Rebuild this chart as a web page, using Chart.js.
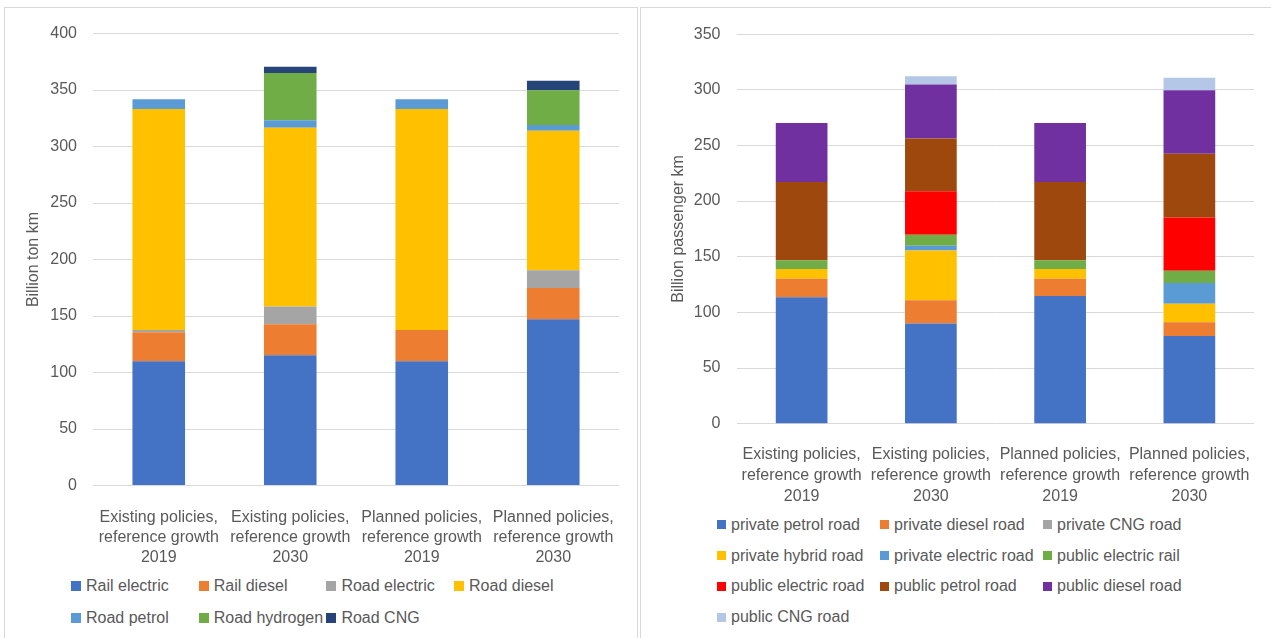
<!DOCTYPE html>
<html>
<head>
<meta charset="utf-8">
<script src="https://cdn.jsdelivr.net/npm/chart.js@4.4.1/dist/chart.umd.min.js"></script>
<style>
  html, body { margin: 0; padding: 0; background: #fff; }
  body { width: 1271px; height: 638px; position: relative; overflow: hidden; font-family: "Liberation Sans", Arial, sans-serif; }
  .panel { position: absolute; top: 7px; height: 700px; border: 1px solid #d9d9d9; box-sizing: border-box; }
  #leftPanel { left: 4px; width: 634px; }
  #rightPanel { left: 640px; width: 640px; }
  canvas { position: absolute; left: 0; top: 0; }
  .legend { position: absolute; display: grid; color: #595959; font-size: 16px; }
  .legend .item { display: flex; align-items: center; white-space: nowrap; }
  .legend .box { display: inline-block; margin-right: 5px; flex: none; }
</style>
</head>
<body>
<div class="panel" id="leftPanel"><canvas id="freightChart" width="632" height="560"></canvas></div>
<div class="panel" id="rightPanel"><canvas id="passengerChart" width="630" height="500"></canvas></div>
<div class="legend" id="freightLegend"></div>
<div class="legend" id="passengerLegend"></div>

<script>
// categories (same for both charts)
const categories = [
  ['Existing policies,', 'reference growth', '2019'],
  ['Existing policies,', 'reference growth', '2030'],
  ['Planned policies,', 'reference growth', '2019'],
  ['Planned policies,', 'reference growth', '2030']
];

// freight, billion ton km
const railElectric = [110, 115.4, 110, 147.2];
const railDiesel = [25.6, 27.4, 27.6, 27.7];
const roadElectric = [2, 15.6, 0, 15.6];
const roadDiesel = [195.6, 158.3, 195.6, 123.4];
const roadPetrol = [8.7, 6.7, 8.7, 5.2];
const roadHydrogen = [0, 41.8, 0, 30.8];
const roadCNG = [0, 5.5, 0, 8.4];
const freightTicks = [0, 50, 100, 150, 200, 250, 300, 350, 400];

// passenger, billion passenger km
const privPetrolRoad = [113.6, 90.0, 114.8, 78.8];
const privDieselRoad = [16.6, 21.0, 15.4, 12.3];
const privCNGRoad = [0, 0, 0, 0];
const privHybridRoad = [8.8, 44.6, 8.8, 16.6];
const privElectricRoad = [0, 4.2, 0, 18.8];
const pubElectricRail = [7.9, 9.9, 7.9, 11.0];
const pubElectricRoad = [0, 39.1, 0, 47.7];
const pubPetrolRoad = [70.3, 47.3, 70.3, 57.2];
const pubDieselRoad = [52.9, 48.7, 52.9, 57.2];
const pubCNGRoad = [0, 7.4, 0, 11.1];
const passengerTicks = [0, 50, 100, 150, 200, 250, 300, 350];

Chart.defaults.font.family = '"Liberation Sans", Arial, sans-serif';
Chart.defaults.font.size = 16;
Chart.defaults.color = '#595959';

const freightSets = [
  { label: 'Rail electric', data: railElectric, backgroundColor: '#4472C4' },
  { label: 'Rail diesel', data: railDiesel, backgroundColor: '#ED7D31' },
  { label: 'Road electric', data: roadElectric, backgroundColor: '#A5A5A5' },
  { label: 'Road diesel', data: roadDiesel, backgroundColor: '#FFC000' },
  { label: 'Road petrol', data: roadPetrol, backgroundColor: '#5B9BD5' },
  { label: 'Road hydrogen', data: roadHydrogen, backgroundColor: '#70AD47' },
  { label: 'Road CNG', data: roadCNG, backgroundColor: '#264478' }
];

const passengerSets = [
  { label: 'private petrol road', data: privPetrolRoad, backgroundColor: '#4472C4' },
  { label: 'private diesel road', data: privDieselRoad, backgroundColor: '#ED7D31' },
  { label: 'private CNG road', data: privCNGRoad, backgroundColor: '#A5A5A5' },
  { label: 'private hybrid road', data: privHybridRoad, backgroundColor: '#FFC000' },
  { label: 'private electric road', data: privElectricRoad, backgroundColor: '#5B9BD5' },
  { label: 'public electric rail', data: pubElectricRail, backgroundColor: '#70AD47' },
  { label: 'public electric road', data: pubElectricRoad, backgroundColor: '#FF0000' },
  { label: 'public petrol road', data: pubPetrolRoad, backgroundColor: '#9E480E' },
  { label: 'public diesel road', data: pubDieselRoad, backgroundColor: '#7030A0' },
  { label: 'public CNG road', data: pubCNGRoad, backgroundColor: '#B4C7E7' }
];

function makeChart(id, sets, ticks, title, o) {
  return new Chart(document.getElementById(id), {
    type: 'bar',
    data: {
      labels: categories,
      datasets: sets.map(s => Object.assign({ borderWidth: 0, barPercentage: 0.4, categoryPercentage: 1 }, s))
    },
    options: {
      responsive: false,
      animation: false,
      layout: { padding: { left: o.padLeft, right: o.padRight, top: o.padTop, bottom: 0 } },
      plugins: { legend: { display: false }, tooltip: { enabled: false } },
      scales: {
        x: {
          stacked: true,
          grid: { display: false },
          border: { display: false },
          ticks: { padding: o.xPad, maxRotation: 0, autoSkip: false, font: { size: 16, lineHeight: o.lineH } },
          afterFit: s => { s.height = o.xHeight; }
        },
        y: {
          stacked: true,
          min: 0,
          max: ticks[ticks.length - 1],
          afterBuildTicks: s => { s.ticks = ticks.map(v => ({ value: v })); },
          grid: { color: '#d9d9d9', lineWidth: 1, drawTicks: false },
          border: { display: false },
          ticks: { padding: o.yPad, font: { size: 16 } },
          title: { display: true, text: title, padding: 0, font: { size: 16 } },
          afterFit: s => { s.width = o.yWidth; }
        }
      }
    }
  });
}

const freightChart = makeChart('freightChart', freightSets, freightTicks, 'Billion ton km',
  { padLeft: 19.4, padRight: 18, padTop: 16.3, yWidth: 68.6, yPad: 16, xPad: 14.5, lineH: 1.25, xHeight: 82.5 });

const passengerChart = makeChart('passengerChart', passengerSets, passengerTicks, 'Billion passenger km',
  { padLeft: 28.4, padRight: 17, padTop: 18, yWidth: 67.6, yPad: 16.5, xPad: 12.5, lineH: 1.3125, xHeight: 84.3 });

// legend in Excel style columns, built from the chart datasets
function buildLegend(el, chart, pos) {
  el.style.left = pos.left + 'px';
  el.style.top = pos.top + 'px';
  el.style.gridTemplateColumns = 'repeat(' + pos.cols + ', ' + pos.colW + 'px)';
  el.style.gridAutoRows = pos.rowH + 'px';
  chart.data.datasets.forEach(ds => {
    const item = document.createElement('div');
    item.className = 'item';
    const box = document.createElement('span');
    box.className = 'box';
    box.style.width = pos.box + 'px';
    box.style.height = pos.box + 'px';
    box.style.background = ds.backgroundColor;
    const txt = document.createElement('span');
    txt.textContent = ds.label;
    item.appendChild(box);
    item.appendChild(txt);
    el.appendChild(item);
  });
}

buildLegend(document.getElementById('freightLegend'), freightChart,
  { left: 71, top: 570.5, cols: 4, colW: 127.7, rowH: 31.6, box: 10 });
buildLegend(document.getElementById('passengerLegend'), passengerChart,
  { left: 717, top: 509.6, cols: 3, colW: 163, rowH: 30.7, box: 9 });
</script>
</body>
</html>
